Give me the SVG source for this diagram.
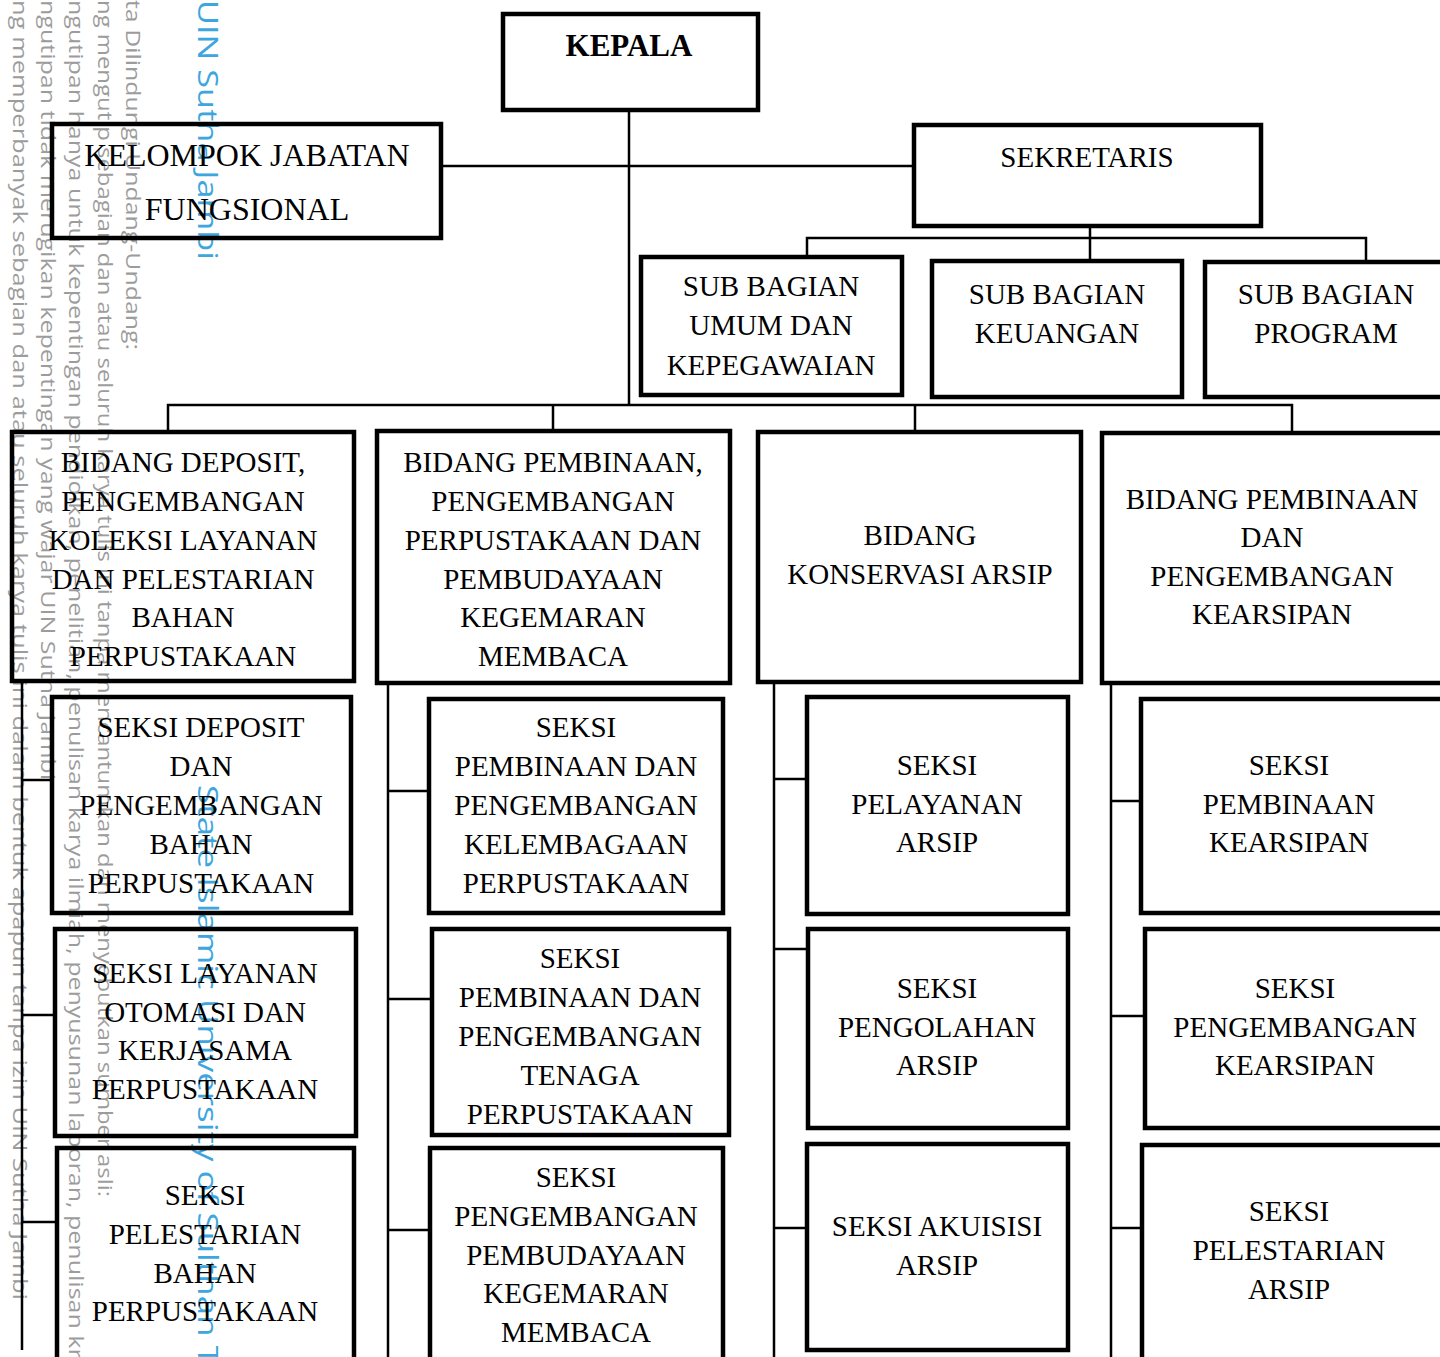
<svg xmlns="http://www.w3.org/2000/svg" width="1440" height="1357" viewBox="0 0 1440 1357">
<style>
.bg{fill:#ffffff}
.box{fill:none;stroke:#000;stroke-width:4.5}
.con{fill:none;stroke:#000;stroke-width:2.5}
.t{font-family:"Liberation Serif","Times New Roman",serif;font-size:29px;fill:#000;text-anchor:middle}
.tb{font-weight:bold;font-size:31px}
.tk{font-size:32px}
.wm{font-family:"Open Sans","DejaVu Sans",sans-serif;font-size:20px;fill:#9c9c9c}
.wb{font-family:"Open Sans","DejaVu Sans",sans-serif;font-size:27px;fill:#3ea6de}
</style>
<rect class="bg" x="0" y="0" width="1440" height="1357"/>
<g id="watermark">
<text class="wm" transform="translate(13,0) rotate(90)" textLength="1300" lengthAdjust="spacingAndGlyphs">ng memperbanyak sebagian dan atau seluruh karya tulis ini dalam bentuk apapun tanpa izin UIN Sutha Jambi</text>
<text class="wm" transform="translate(41,0) rotate(90)" textLength="780" lengthAdjust="spacingAndGlyphs">ngutipan tidak merugikan kepentingan yang wajar UIN Sutha Jambi</text>
<text class="wm" transform="translate(69,0) rotate(90)" textLength="1365" lengthAdjust="spacingAndGlyphs">ngutipan hanya untuk kepentingan pendidikan, penelitian, penulisan karya ilmiah, penyusunan laporan, penulisan kri</text>
<text class="wm" transform="translate(98,0) rotate(90)" textLength="1197" lengthAdjust="spacingAndGlyphs">ng mengutip sebagian dan atau seluruh karya tulis ini tanpa mencantumkan dan menyebutkan sumber asli:</text>
<text class="wm" transform="translate(126,0) rotate(90)" textLength="350" lengthAdjust="spacingAndGlyphs">ta Dilindungi Undang-Undang:</text>
<text class="wb" transform="translate(198,0) rotate(90)" textLength="260" lengthAdjust="spacingAndGlyphs">UIN Sutha Jambi</text>
<text class="wb" transform="translate(198,785) rotate(90)" textLength="580" lengthAdjust="spacingAndGlyphs">State Islamic University of Sulthan T</text>
</g>
<g id="connectors">
<path class="con" d="M629 112V405"/>
<path class="con" d="M443 166H912"/>
<path class="con" d="M1090 228V261"/>
<path class="con" d="M807 255V238H1366V260"/>
<path class="con" d="M168 430V405H1292V431M553 405V429M915 405V430"/>
<path class="con" d="M22 683V1350M22 780H52M22 1015H55M22 1222H57"/>
<path class="con" d="M388 685V1357M388 791H427M388 999H430M388 1230H428"/>
<path class="con" d="M774 684V1357M774 779H805M774 949H806M774 1228H805"/>
<path class="con" d="M1111 685V1357M1111 801H1139M1111 1016H1143M1111 1228H1140"/>
</g>
<g id="kepala"><rect class="box" x="503" y="14" width="255" height="96"/><text class="t tb" x="629" y="56">KEPALA</text></g>
<g id="kelompok-jabatan-fungsional"><rect class="box" x="52" y="124" width="389" height="114"/><text class="t tk"><tspan x="247" y="166">KELOMPOK JABATAN</tspan><tspan x="247" y="220">FUNGSIONAL</tspan></text></g>
<g id="sekretaris"><rect class="box" x="914" y="125" width="347" height="101"/><text class="t" x="1087" y="167">SEKRETARIS</text></g>
<g id="sub-umum"><rect class="box" x="641" y="257" width="261" height="138"/><text class="t"><tspan x="771" y="296">SUB BAGIAN</tspan><tspan x="771" y="335">UMUM DAN</tspan><tspan x="771" y="375">KEPEGAWAIAN</tspan></text></g>
<g id="sub-keuangan"><rect class="box" x="932" y="261" width="250" height="136"/><text class="t"><tspan x="1057" y="304">SUB BAGIAN</tspan><tspan x="1057" y="343">KEUANGAN</tspan></text></g>
<g id="sub-program"><rect class="box" x="1205" y="262" width="245" height="135"/><text class="t"><tspan x="1326" y="304">SUB BAGIAN</tspan><tspan x="1326" y="343">PROGRAM</tspan></text></g>
<g id="bidang-deposit"><rect class="box" x="12" y="432" width="342" height="249"/><text class="t"><tspan x="183" y="472">BIDANG DEPOSIT,</tspan><tspan x="183" y="511">PENGEMBANGAN</tspan><tspan x="183" y="550">KOLEKSI LAYANAN</tspan><tspan x="183" y="589">DAN PELESTARIAN</tspan><tspan x="183" y="627">BAHAN</tspan><tspan x="183" y="666">PERPUSTAKAAN</tspan></text></g>
<g id="bidang-pembinaan-perpustakaan"><rect class="box" x="377" y="431" width="353" height="252"/><text class="t"><tspan x="553" y="472">BIDANG PEMBINAAN,</tspan><tspan x="553" y="511">PENGEMBANGAN</tspan><tspan x="553" y="550">PERPUSTAKAAN DAN</tspan><tspan x="553" y="589">PEMBUDAYAAN</tspan><tspan x="553" y="627">KEGEMARAN</tspan><tspan x="553" y="666">MEMBACA</tspan></text></g>
<g id="bidang-konservasi"><rect class="box" x="758" y="432" width="323" height="250"/><text class="t"><tspan x="920" y="545">BIDANG</tspan><tspan x="920" y="584">KONSERVASI ARSIP</tspan></text></g>
<g id="bidang-kearsipan"><rect class="box" x="1102" y="433" width="345" height="250"/><text class="t"><tspan x="1272" y="509">BIDANG PEMBINAAN</tspan><tspan x="1272" y="547">DAN</tspan><tspan x="1272" y="586">PENGEMBANGAN</tspan><tspan x="1272" y="624">KEARSIPAN</tspan></text></g>
<g id="seksi-deposit"><rect class="box" x="52" y="697" width="299" height="216"/><text class="t"><tspan x="201" y="737">SEKSI DEPOSIT</tspan><tspan x="201" y="776">DAN</tspan><tspan x="201" y="815">PENGEMBANGAN</tspan><tspan x="201" y="854">BAHAN</tspan><tspan x="201" y="893">PERPUSTAKAAN</tspan></text></g>
<g id="seksi-layanan"><rect class="box" x="55" y="929" width="301" height="207"/><text class="t"><tspan x="205" y="983">SEKSI LAYANAN</tspan><tspan x="205" y="1022">OTOMASI DAN</tspan><tspan x="205" y="1060">KERJASAMA</tspan><tspan x="205" y="1099">PERPUSTAKAAN</tspan></text></g>
<g id="seksi-pelestarian-bahan"><rect class="box" x="57" y="1148" width="297" height="230"/><text class="t"><tspan x="205" y="1205">SEKSI</tspan><tspan x="205" y="1244">PELESTARIAN</tspan><tspan x="205" y="1283">BAHAN</tspan><tspan x="205" y="1321">PERPUSTAKAAN</tspan></text></g>
<g id="seksi-kelembagaan"><rect class="box" x="429" y="699" width="294" height="214"/><text class="t"><tspan x="576" y="737">SEKSI</tspan><tspan x="576" y="776">PEMBINAAN DAN</tspan><tspan x="576" y="815">PENGEMBANGAN</tspan><tspan x="576" y="854">KELEMBAGAAN</tspan><tspan x="576" y="893">PERPUSTAKAAN</tspan></text></g>
<g id="seksi-tenaga"><rect class="box" x="432" y="929" width="297" height="206"/><text class="t"><tspan x="580" y="968">SEKSI</tspan><tspan x="580" y="1007">PEMBINAAN DAN</tspan><tspan x="580" y="1046">PENGEMBANGAN</tspan><tspan x="580" y="1085">TENAGA</tspan><tspan x="580" y="1124">PERPUSTAKAAN</tspan></text></g>
<g id="seksi-pembudayaan"><rect class="box" x="430" y="1148" width="293" height="230"/><text class="t"><tspan x="576" y="1187">SEKSI</tspan><tspan x="576" y="1226">PENGEMBANGAN</tspan><tspan x="576" y="1265">PEMBUDAYAAN</tspan><tspan x="576" y="1303">KEGEMARAN</tspan><tspan x="576" y="1342">MEMBACA</tspan></text></g>
<g id="seksi-pelayanan-arsip"><rect class="box" x="807" y="697" width="261" height="217"/><text class="t"><tspan x="937" y="775">SEKSI</tspan><tspan x="937" y="814">PELAYANAN</tspan><tspan x="937" y="852">ARSIP</tspan></text></g>
<g id="seksi-pengolahan-arsip"><rect class="box" x="808" y="929" width="260" height="199"/><text class="t"><tspan x="937" y="998">SEKSI</tspan><tspan x="937" y="1037">PENGOLAHAN</tspan><tspan x="937" y="1075">ARSIP</tspan></text></g>
<g id="seksi-akuisisi-arsip"><rect class="box" x="807" y="1144" width="261" height="206"/><text class="t"><tspan x="937" y="1236">SEKSI AKUISISI</tspan><tspan x="937" y="1275">ARSIP</tspan></text></g>
<g id="seksi-pembinaan-kearsipan"><rect class="box" x="1141" y="699" width="310" height="214"/><text class="t"><tspan x="1289" y="775">SEKSI</tspan><tspan x="1289" y="814">PEMBINAAN</tspan><tspan x="1289" y="852">KEARSIPAN</tspan></text></g>
<g id="seksi-pengembangan-kearsipan"><rect class="box" x="1145" y="929" width="310" height="199"/><text class="t"><tspan x="1295" y="998">SEKSI</tspan><tspan x="1295" y="1037">PENGEMBANGAN</tspan><tspan x="1295" y="1075">KEARSIPAN</tspan></text></g>
<g id="seksi-pelestarian-arsip"><rect class="box" x="1142" y="1145" width="310" height="230"/><text class="t"><tspan x="1289" y="1221">SEKSI</tspan><tspan x="1289" y="1260">PELESTARIAN</tspan><tspan x="1289" y="1299">ARSIP</tspan></text></g>
</svg>
